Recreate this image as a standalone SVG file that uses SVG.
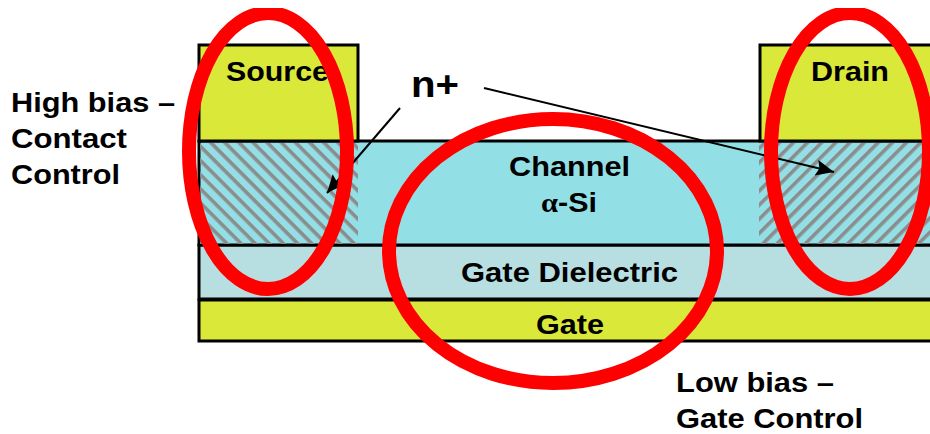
<svg xmlns="http://www.w3.org/2000/svg" width="930" height="434" viewBox="0 0 930 434">
<style>
.l{stroke:#000;stroke-width:3}
.y{fill:#dae839}
.c{fill:#92e0e6}
.d{fill:#b7dee1}
.h{stroke:none}
.t{font-family:"Liberation Sans",Arial,sans-serif;font-weight:bold;font-size:28px;fill:#000}
.r{fill:none;stroke:#fe0000;stroke-width:14}
.a{stroke:#000;stroke-width:2;fill:none}
</style>
<defs>
<pattern id="hl" width="10" height="10" patternUnits="userSpaceOnUse" patternTransform="rotate(45)"><rect x="0" y="0" width="10" height="3.6" fill="#8c8c8c"/></pattern>
<pattern id="hr" width="10" height="10" patternUnits="userSpaceOnUse" patternTransform="rotate(-45)"><rect x="0" y="0" width="10" height="3.6" fill="#8c8c8c"/></pattern>
<marker id="ah" markerWidth="20" markerHeight="18" refX="18" refY="8" orient="auto" markerUnits="userSpaceOnUse"><path d="M0 0L18 8L0 16L3 8Z" fill="#000"/></marker>
<clipPath id="top"><rect x="0" y="8" width="930" height="426"/></clipPath>
</defs>
<g id="gate"><rect class="y l" x="199" y="300" width="740" height="41"/><text class="t" x="536" y="334" textLength="68" lengthAdjust="spacingAndGlyphs">Gate</text></g>
<g id="dielectric"><rect class="d l" x="199" y="245" width="740" height="54"/><text class="t" x="461" y="282" textLength="217" lengthAdjust="spacingAndGlyphs">Gate Dielectric</text></g>
<g id="channel"><rect class="c l" x="199" y="141" width="740" height="104"/><text class="t" x="509" y="176" textLength="121" lengthAdjust="spacingAndGlyphs">Channel</text><text class="t" x="541" y="212" textLength="56" lengthAdjust="spacingAndGlyphs"><tspan font-family="'Liberation Serif',serif">α</tspan>-Si</text></g>
<g id="source"><rect class="y l" x="199" y="45" width="159" height="96"/><text class="t" x="226" y="81" textLength="103" lengthAdjust="spacingAndGlyphs">Source</text></g>
<g id="drain"><rect class="y l" x="760" y="45" width="180" height="96"/><text class="t" x="811" y="81" textLength="78" lengthAdjust="spacingAndGlyphs">Drain</text></g>
<g id="hatch-source"><rect class="h" x="200" y="143" width="158" height="101" fill="url(#hl)"/></g>
<g id="hatch-drain"><rect class="h" x="759" y="143" width="171" height="101" fill="url(#hr)"/></g>
<g id="connectors">
<path class="a" d="M400 108L327 193" marker-end="url(#ah)"/>
<path class="a" d="M484 88L834 172" marker-end="url(#ah)"/>
</g>
<g id="ring-source"><ellipse class="r" cx="268" cy="151" rx="79" ry="138" clip-path="url(#top)"/></g>
<g id="ring-drain"><ellipse class="r" cx="850" cy="151" rx="79" ry="138" clip-path="url(#top)"/></g>
<g id="ring-gate"><ellipse class="r" cx="553" cy="251" rx="164" ry="132"/></g>
<g id="label-nplus"><text class="t" x="411" y="97" textLength="48" lengthAdjust="spacingAndGlyphs" style="font-size:36px">n+</text></g>
<g id="label-high"><text class="t" x="11" y="112" textLength="164" lengthAdjust="spacingAndGlyphs">High bias –</text><text class="t" x="11" y="148" textLength="116" lengthAdjust="spacingAndGlyphs">Contact</text><text class="t" x="11" y="184" textLength="109" lengthAdjust="spacingAndGlyphs">Control</text></g>
<g id="label-low"><text class="t" x="676" y="392" textLength="158" lengthAdjust="spacingAndGlyphs">Low bias –</text><text class="t" x="676" y="428" textLength="187" lengthAdjust="spacingAndGlyphs">Gate Control</text></g>
</svg>
